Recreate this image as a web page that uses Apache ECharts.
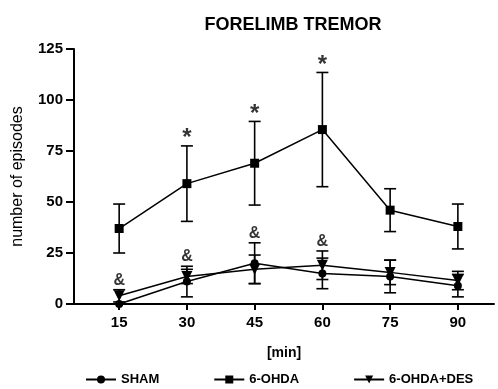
<!DOCTYPE html>
<html>
<head>
<meta charset="utf-8">
<script src="https://cdn.jsdelivr.net/npm/echarts@6/dist/echarts.min.js"></script>
<style>
  html, body { margin: 0; padding: 0; background: #fff; }
  #main { width: 498px; height: 389px; }
</style>
</head>
<body>
<div id="main"></div>
<script>
	var minutes = [15, 30, 45, 60, 75, 90];
	var yTicks = [0, 25, 50, 75, 100, 125];

	var shamMean = [0, 11, 20, 15, 13.5, 9];
	var shamSem = [0, 7.5, 10, 7.5, 8, 5.5];

	var ohdaMean = [37, 59, 69, 85.5, 46, 38];
	var ohdaSem = [12, 18.5, 20.5, 28, 10.5, 11];

	var desMean = [4, 13.5, 17, 19, 15.5, 11.5];
	var desSem = [3, 3.5, 7, 7, 6, 4.5];

	// significance marks: '*' on 6-OHDA, '&' over the low groups
	var starAt = [30, 45, 60];
	var ampAt = [15, 30, 45, 60];

	var font = 'Liberation Sans, Arial, sans-serif';

	function pairs(mean) {
		var out = [];
		for (var i = 0; i < minutes.length; i++) out.push([minutes[i], mean[i]]);
		return out;
	}

	function bars(mean, sem) {
		var out = [];
		for (var i = 0; i < minutes.length; i++) {
			out.push([minutes[i], mean[i] - sem[i], mean[i] + sem[i]]);
		}
		return out;
	}

	// anchor a mark on the highest error bar of the given groups
	function marks(at, groups) {
		var out = [];
		for (var i = 0; i < at.length; i++) {
			var k = minutes.indexOf(at[i]);
			var top = 0;
			for (var g = 0; g < groups.length; g++) {
				top = Math.max(top, groups[g][0][k] + groups[g][1][k]);
			}
			out.push([at[i], top]);
		}
		return out;
	}

	function renderBar(params, api) {
		var x = api.value(0);
		var lo = api.coord([x, api.value(1)]);
		var hi = api.coord([x, api.value(2)]);
		var w = 6;
		var st = { stroke: '#000', lineWidth: 1.6 };
		return {
			type: 'group',
			children: [
				{ type: 'line', shape: { x1: lo[0], y1: lo[1], x2: hi[0], y2: hi[1] }, style: st },
				{ type: 'line', shape: { x1: lo[0] - w, y1: lo[1], x2: lo[0] + w, y2: lo[1] }, style: st },
				{ type: 'line', shape: { x1: hi[0] - w, y1: hi[1], x2: hi[0] + w, y2: hi[1] }, style: st }
			]
		};
	}

	function errSeries(mean, sem) {
		return {
			type: 'custom',
			renderItem: renderBar,
			data: bars(mean, sem),
			encode: { x: 0, y: [1, 2] },
			silent: true,
			z: 1
		};
	}

	function lineSeries(name, mean, symbol, size, rotate) {
		return {
			name: name,
			type: 'line',
			data: pairs(mean),
			symbol: symbol,
			symbolSize: size,
			symbolRotate: rotate || 0,
			showAllSymbol: true,
			lineStyle: { color: '#000', width: 1.5 },
			itemStyle: { color: '#000' },
			z: 3
		};
	}

	function markSeries(data, text, fontSize, offset, weight) {
		return {
			type: 'scatter',
			data: data,
			symbolSize: 1,
			itemStyle: { color: 'rgba(0,0,0,0)' },
			silent: true,
			label: {
				show: true,
				position: 'top',
				distance: offset,
				formatter: text,
				color: '#000',
				fontSize: fontSize,
				fontWeight: weight,
				fontFamily: font
			}
		};
	}

	var chart = echarts.init(document.getElementById('main'));

	var option = {
		backgroundColor: '#fff',
		animation: false,
		title: {
			text: 'FORELIMB TREMOR',
			left: 288,
			textAlign: 'center',
			top: 11,
			textStyle: { fontFamily: font, fontSize: 18, fontWeight: 'bold', color: '#000' }
		},
		legend: {
			data: ['SHAM', '6-OHDA', '6-OHDA+DES'],
			left: 80,
			top: 368,
			itemWidth: 30,
			itemHeight: 10,
			itemGap: 54,
			textStyle: { fontFamily: font, fontSize: 13, fontWeight: 'bold', color: '#000' }
		},
		grid: { left: 74, right: 4, top: 49, bottom: 85, containLabel: false },
		xAxis: {
			type: 'value',
			min: 5,
			max: 98,
			name: '[min]',
			nameLocation: 'middle',
			nameGap: 42,
			nameTextStyle: { fontFamily: font, fontSize: 14, fontWeight: 'bold', color: '#000' },
			axisLine: { onZero: false, lineStyle: { color: '#000', width: 2 } },
			axisTick: { customValues: minutes, length: 6, lineStyle: { color: '#000', width: 2 } },
			axisLabel: {
				customValues: minutes,
				fontFamily: font, fontSize: 15, fontWeight: 'bold', color: '#000', margin: 11
			},
			splitLine: { show: false }
		},
		yAxis: {
			type: 'value',
			min: 0,
			max: 125,
			interval: 25,
			name: 'number of episodes',
			nameLocation: 'middle',
			nameGap: 48,
			nameTextStyle: { fontFamily: font, fontSize: 16, color: '#000' },
			axisLine: { show: true, lineStyle: { color: '#000', width: 2 } },
			axisTick: { show: true, length: 8, lineStyle: { color: '#000', width: 2 } },
			axisLabel: {
				customValues: yTicks,
				fontFamily: font, fontSize: 15, fontWeight: 'bold', color: '#000', margin: 11
			},
			splitLine: { show: false }
		},
		series: [
			errSeries(shamMean, shamSem),
			errSeries(ohdaMean, ohdaSem),
			errSeries(desMean, desSem),
			lineSeries('SHAM', shamMean, 'circle', 8),
			lineSeries('6-OHDA', ohdaMean, 'rect', 9),
			lineSeries('6-OHDA+DES', desMean, 'triangle', 11, 180),
			markSeries(marks(starAt, [[ohdaMean, ohdaSem]]), '*', 24, -5, 'bold'),
			markSeries(marks(ampAt, [[shamMean, shamSem], [desMean, desSem]]), '&', 16, 1, 'bold')
		]
	};

	chart.setOption(option);
</script>
</body>
</html>
